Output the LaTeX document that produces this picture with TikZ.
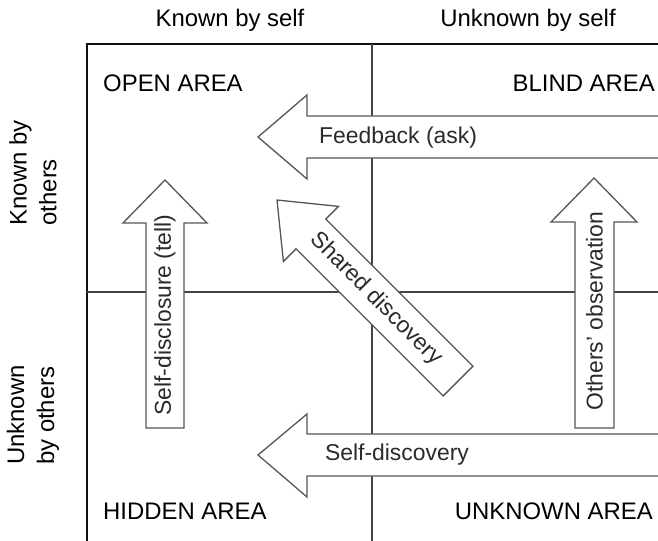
\documentclass[tikz,border=0pt]{standalone}
\usepackage{fontspec}
\setmainfont{Liberation Sans}
\definecolor{framecol}{HTML}{111111}
\definecolor{gridcol}{HTML}{444444}
\definecolor{arrowcol}{HTML}{555555}
\definecolor{labelcol}{HTML}{2A2A2A}
\begin{document}
\begin{tikzpicture}[x=1bp,y=-1bp,
  frame/.style={line width=2.2bp, draw=framecol},
  divider/.style={line width=1.3bp, draw=gridcol},
  blockarrow/.style={draw=arrowcol, fill=white, line width=1.3bp, line join=miter},
  heading/.style={font=\fontsize{24}{29}\selectfont, text=black, inner sep=0pt},
  sidelabel/.style={font=\fontsize{24}{30}\selectfont, text=black, inner sep=0pt, align=left, rotate=90},
  area/.style={font=\fontsize{24}{29}\selectfont, text=black, inner sep=0pt},
  arrowtext/.style={font=\fontsize{23}{27}\selectfont, text=labelcol, inner sep=0pt}]
\clip (0,0) rectangle (658,541);

% column and row headings
\node[heading, anchor=base] (kself) at (230,27) {Known by self};
\node[heading, anchor=base] (uself) at (528,27) {Unknown by self};
\node[sidelabel] (kothers) at (33,173) {Known by\\others};
\node[sidelabel] (uothers) at (33,415) {Unknown\\by others};

% window frame and quadrant dividers
\draw[frame] (87,545) -- (87,44) -- (665,44);
\draw[divider] (372,44) -- (372,545);
\draw[divider] (87,292) -- (665,292);

% quadrant names
\node[area, anchor=west] (open) at (103,83) {OPEN AREA};
\node[area, anchor=east] (blind) at (655,83) {BLIND AREA};
\node[area, anchor=west] (hidden) at (103,511) {HIDDEN AREA};
\node[area, anchor=east] (unknown) at (653,511) {UNKNOWN AREA};

% feedback arrow (leftwards, top)
\path[blockarrow] (258,137) -- (307,95) -- (307,116) -- (665,116) -- (665,158)
  -- (307,158) -- (307,179) -- cycle;
\node[arrowtext] (feedback) at (398,138) {Feedback (ask)};

% self-discovery arrow (leftwards, bottom)
\path[blockarrow] (258,455) -- (307,414) -- (307,434) -- (665,434) -- (665,476)
  -- (307,476) -- (307,497) -- cycle;
\node[arrowtext] (selfdisc) at (397,455) {Self-discovery};

% self-disclosure arrow (upwards, left)
\path[blockarrow] (165,180) -- (207,223) -- (184,223) -- (184,428) -- (146,428)
  -- (146,223) -- (123,223) -- cycle;
\node[arrowtext, rotate=90] (disclose) at (165,315) {Self-disclosure (tell)};

% others' observation arrow (upwards, right)
\path[blockarrow] (594,178) -- (637,222) -- (614,222) -- (614,428) -- (575,428)
  -- (575,222) -- (551,222) -- cycle;
\node[arrowtext, rotate=90] (observe) at (594.5,311) {Others' observation};

% shared discovery arrow (diagonal, towards the open area)
\path[blockarrow] (277,200) -- (338.5,206.4) -- (325.8,219.1) -- (472.9,366.2)
  -- (443.2,395.9) -- (296.1,248.8) -- (283.4,261.5) -- cycle;
\node[arrowtext, rotate=-45] (shared) at (376,299) {Shared discovery};
\end{tikzpicture}
\end{document}
